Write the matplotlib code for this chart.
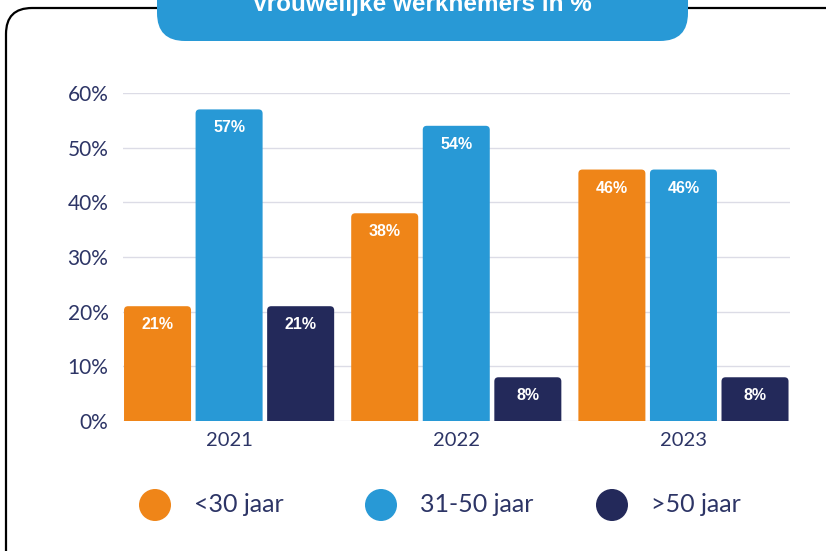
import matplotlib.pyplot as plt
import numpy as np
from matplotlib.patches import FancyBboxPatch, Circle

years = ["2021", "2022", "2023"]
groups = ["<30 jaar", "31-50 jaar", ">50 jaar"]
under30 = [21, 38, 46]
mid31_50 = [57, 54, 46]
over50 = [21, 8, 8]
title = "Vrouwelijke werknemers in %"

colors = ["#ef8518", "#2899d6", "#23295a"]
text_col = "#2d3566"
W, H = 826, 551

fig = plt.figure(figsize=(W / 100, H / 100), dpi=100)

# decoration layer in pixel coordinates (frame, title pill, legend)
deco = fig.add_axes([0, 0, 1, 1])
deco.set_xlim(0, W)
deco.set_ylim(H, 0)
deco.axis("off")
deco.add_patch(FancyBboxPatch((6, 8), W + 40, H + 40,
                              boxstyle="round,pad=0,rounding_size=26",
                              fc="white", ec="black", lw=1.6))
deco.add_patch(FancyBboxPatch((157, -40), 531, 81,
                              boxstyle="round,pad=0,rounding_size=28",
                              fc="#2899d6", ec="none"))
deco.text(422, 11, title, color="white", fontsize=17.5, fontweight="bold",
          family=["Liberation Sans", "DejaVu Sans"], ha="center", va="baseline")

leg_x = [155, 381, 612]
for x, lab, c in zip(leg_x, groups, colors):
    deco.add_patch(Circle((x, 505), 16, fc=c, ec="none"))
    deco.text(x + 39, 505, lab, color=text_col, fontsize=18, family="Lato",
              ha="left", va="center")

ax = fig.add_axes([123 / W, 1 - 421 / H, 667 / W, 328 / H])
ax.patch.set_alpha(0)
x = np.arange(len(years))
bw = 0.295
step = 0.315
series = [under30, mid31_50, over50]
for i, (vals, c) in enumerate(zip(series, colors)):
    bars = ax.bar(x + (i - 1) * step, vals, width=bw, color=c)
    for b, v in zip(bars, vals):
        b.set_visible(False)
        ax.add_patch(FancyBboxPatch((b.get_x(), -3), b.get_width(), v + 3,
                                    boxstyle="round,pad=0,rounding_size=0.018",
                                    mutation_aspect=41.5, fc=c, ec="none",
                                    clip_on=True))
        ax.text(b.get_x() + b.get_width() / 2, v - 3.4, f"{v}%",
                color="white", fontsize=11.5, fontweight="bold",
                family=["Liberation Sans", "DejaVu Sans"],
                ha="center", va="center")

ax.set_xlim(-0.467, 2.469)
ax.set_ylim(0, 60)
ax.set_yticks(np.arange(0, 61, 10))
ax.set_yticklabels([f"{t}%" for t in range(0, 61, 10)])
ax.set_xticks(x)
ax.set_xticklabels(years)
ax.grid(axis="y", color="#dcdce6", lw=1)
ax.set_axisbelow(True)
for s in ax.spines.values():
    s.set_visible(False)
ax.tick_params(length=0, labelcolor=text_col)
ax.tick_params(axis="y", pad=10.5, labelsize=15)
ax.tick_params(axis="x", pad=8, labelsize=14.5)
for lab in ax.get_xticklabels() + ax.get_yticklabels():
    lab.set_family("Lato")

fig.savefig("out.png", dpi=100)
